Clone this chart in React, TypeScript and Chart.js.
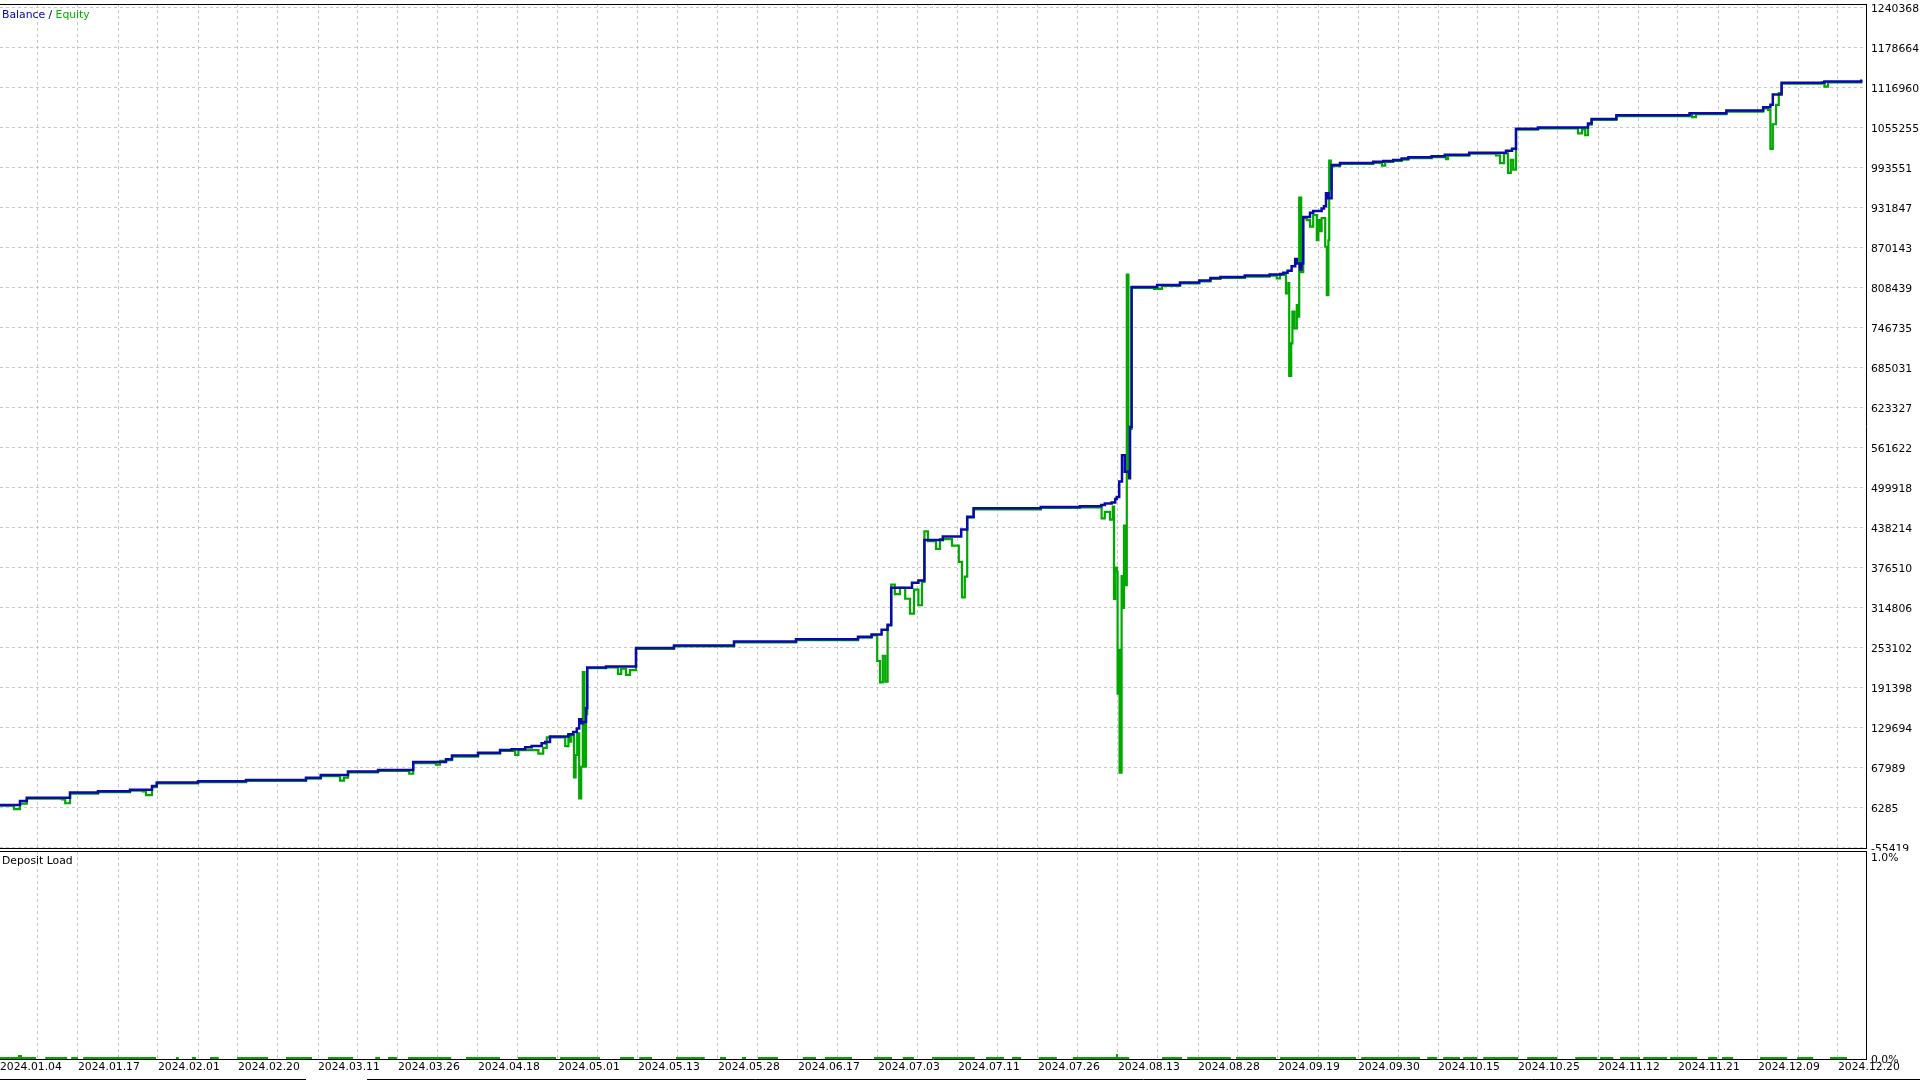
import React, { useEffect, useRef } from 'react';
import { Chart, registerables } from 'chart.js';

Chart.register(...registerables);

// x axis: one unit = one vertical grid step; date labels every second step
const dateLabels = [
  '2024.01.04', '2024.01.17', '2024.02.01', '2024.02.20', '2024.03.11', '2024.03.26',
  '2024.04.18', '2024.05.01', '2024.05.13', '2024.05.28', '2024.06.17', '2024.07.03',
  '2024.07.11', '2024.07.26', '2024.08.13', '2024.08.28', '2024.09.19', '2024.09.30',
  '2024.10.15', '2024.10.25', '2024.11.12', '2024.11.21', '2024.12.09', '2024.12.20',
];

const yTickValues = [
  1240368, 1178664, 1116960, 1055255, 993551, 931847, 870143, 808439, 746735, 685031,
  623327, 561622, 499918, 438214, 376510, 314806, 253102, 191398, 129694, 67989, 6285, -55419,
];

const depositTickValues = [0, 1];

// [position, balance]
const balancePoints: [number, number][] = [
  [0.05, 10000], [0.55, 16000], [0.72, 21000], [1.8, 29000], [2.5, 31000], [3.3, 33500],
  [3.85, 39000], [3.97, 44500], [5.0, 46500], [6.2, 48500], [7.7, 52000], [8.07, 56000],
  [8.75, 61500], [9.5, 64000], [10.38, 76000], [11.2, 80500], [11.35, 86000], [12.0, 90500],
  [12.55, 94700], [12.84, 96000], [13.18, 98800], [13.34, 100800], [13.59, 105000], [13.68, 107000],
  [13.8, 115500], [14.26, 119000], [14.38, 122500], [14.47, 128000], [14.53, 142000], [14.58, 136000],
  [14.63, 138000], [14.7, 159000], [14.73, 222000], [15.2, 223500], [15.95, 252000], [16.9, 256000],
  [18.4, 262000], [19.95, 265500], [21.5, 269500], [21.84, 273000], [22.09, 280000], [22.24, 288000],
  [22.33, 345000], [22.85, 352500], [23.01, 356000], [23.16, 418500], [23.62, 424000], [24.08, 435000],
  [24.23, 454500], [24.39, 467500], [26.07, 469500], [27.05, 470500], [27.58, 472600], [27.67, 474800],
  [27.84, 476300], [27.93, 481800], [27.97, 485000], [28.03, 509000], [28.1, 549500], [28.17, 524000],
  [28.28, 514000], [28.3, 593000], [28.34, 809000], [28.98, 812000], [29.55, 816000], [30.03, 819000],
  [30.31, 822800], [30.56, 824500], [31.17, 826500], [31.79, 828000], [32.05, 829000], [32.13, 831000],
  [32.24, 834000], [32.34, 841000], [32.43, 852000], [32.47, 845000], [32.55, 836000], [32.59, 845000],
  [32.63, 917000], [32.8, 923500], [32.88, 926000], [33.09, 930000], [33.15, 933600], [33.2, 953400],
  [33.26, 945700], [33.34, 997000], [33.55, 1000200], [34.38, 1002000], [34.63, 1003300], [34.88, 1005000],
  [35.09, 1007000], [35.26, 1009000], [35.84, 1010600], [36.17, 1013000], [36.78, 1016000], [37.7, 1019000],
  [37.85, 1022000], [37.95, 1053000], [38.5, 1055000], [39.75, 1061000], [39.84, 1068000], [40.46, 1074000],
  [42.29, 1077000], [43.21, 1081000], [44.13, 1086000], [44.31, 1090000], [44.37, 1106000], [44.59, 1124000],
  [45.66, 1126000], [46.58, 1129000],
];

// [position, equity]
const equityPoints: [number, number][] = [
  [0.05, 9000], [0.4, 3500], [0.55, 12000], [0.72, 19500], [1.6, 18500], [1.68, 12500],
  [1.8, 27500], [2.5, 29500], [3.3, 32000], [3.62, 31000], [3.7, 25000], [3.85, 37500],
  [3.97, 43000], [5.0, 45000], [6.2, 47000], [7.7, 50500], [8.07, 54500], [8.55, 47500],
  [8.65, 52000], [8.75, 60000], [9.5, 62500], [10.28, 58000], [10.38, 74500], [10.95, 72000],
  [11.05, 78000], [11.2, 79000], [11.35, 84500], [12.0, 89000], [12.55, 93200], [12.93, 87000],
  [13.01, 94500], [13.51, 89000], [13.63, 98000], [13.72, 114000], [13.8, 114000], [14.18, 100800],
  [14.26, 117500], [14.28, 107500], [14.33, 117500], [14.4, 52600], [14.44, 87000], [14.48, 120400],
  [14.53, 20200], [14.58, 68800], [14.62, 215000], [14.66, 68800], [14.7, 150000], [14.73, 221000],
  [15.2, 222000], [15.5, 212000], [15.58, 220000], [15.7, 210500], [15.8, 218000], [15.95, 250500],
  [16.9, 254500], [18.4, 260500], [19.95, 264000], [21.5, 268000], [21.84, 271500], [21.98, 232000],
  [22.05, 199000], [22.12, 240000], [22.18, 200000], [22.24, 286500], [22.33, 350000], [22.42, 335000],
  [22.55, 345000], [22.68, 328000], [22.8, 305000], [22.9, 342000], [23.01, 318000], [23.1, 354000],
  [23.16, 432000], [23.25, 417000], [23.45, 405000], [23.55, 420000], [23.85, 410000], [24.02, 385000],
  [24.1, 330000], [24.17, 362000], [24.23, 453000], [24.39, 466000], [26.07, 468000], [27.05, 469000],
  [27.59, 452000], [27.67, 462000], [27.8, 450000], [27.87, 470000], [27.9, 327600], [27.93, 376000],
  [27.97, 370000], [27.99, 181500], [28.02, 249000], [28.04, 59800], [28.09, 363000], [28.1, 314000],
  [28.15, 441000], [28.19, 349000], [28.22, 828000], [28.26, 522000], [28.3, 590000], [28.34, 807500],
  [28.9, 806000], [29.1, 810500], [29.55, 814500], [30.03, 817500], [30.31, 821300], [30.56, 823000],
  [31.17, 825000], [31.79, 826500], [31.97, 822000], [32.05, 827500], [32.2, 799000], [32.26, 815000],
  [32.28, 671600], [32.33, 722000], [32.36, 770800], [32.41, 745000], [32.47, 781000], [32.51, 763000],
  [32.53, 946700], [32.58, 832000], [32.63, 915000], [32.72, 912000], [32.8, 902000], [32.88, 920000],
  [32.97, 881000], [33.01, 912000], [33.05, 895000], [33.09, 915000], [33.18, 871000], [33.22, 796500],
  [33.26, 881000], [33.28, 1003800], [33.32, 960000], [33.34, 995500], [33.55, 998700], [34.38, 1000500],
  [34.6, 996000], [34.68, 1001800], [34.88, 1003500], [35.09, 1005500], [35.26, 1007500], [35.84, 1009100],
  [36.17, 1011500], [36.2, 1006000], [36.25, 1011500], [36.78, 1014500], [37.45, 1012000], [37.55, 1000000],
  [37.65, 1015000], [37.75, 985000], [37.82, 1005000], [37.88, 990000], [37.95, 1051500], [38.5, 1053500],
  [39.5, 1046000], [39.6, 1052000], [39.68, 1043000], [39.75, 1059500], [39.84, 1066500], [40.46, 1072500],
  [42.29, 1075500], [42.35, 1071000], [42.45, 1075500], [43.21, 1079500], [44.13, 1084500], [44.25, 1082000],
  [44.31, 1022000], [44.37, 1060000], [44.45, 1090000], [44.52, 1108000], [44.59, 1122500], [45.6, 1124500],
  [45.66, 1118000], [45.75, 1124500], [46.58, 1127500],
];

// [position, deposit load %]
const depositPoints: [number, number][] = [
  [0.05, 0.01], [0.5, 0.02], [0.6, 0.01], [0.95, 0], [1.18, 0.01], [1.73, 0], [1.83, 0.01], [2.0, 0],
  [2.13, 0.01], [3.95, 0], [4.45, 0.01], [4.52, 0], [4.85, 0.01], [4.95, 0], [5.3, 0.01], [5.52, 0],
  [5.98, 0.01], [6.75, 0], [7.2, 0.01], [7.85, 0], [8.25, 0.01], [8.88, 0], [9.43, 0.01], [9.55, 0],
  [9.75, 0.01], [9.98, 0], [10.25, 0.01], [11.33, 0], [11.7, 0.01], [12.55, 0], [13.0, 0.01], [13.95, 0],
  [14.05, 0.01], [15.05, 0], [15.55, 0.01], [15.9, 0], [16.03, 0.01], [16.35, 0], [16.95, 0.01], [17.67, 0],
  [18.05, 0.01], [18.2, 0], [18.6, 0.01], [18.7, 0], [19.0, 0.01], [19.5, 0], [20.12, 0.01], [20.45, 0],
  [20.67, 0.01], [21.35, 0], [21.9, 0.01], [22.35, 0], [22.62, 0.01], [22.9, 0], [23.35, 0.01], [24.42, 0],
  [24.7, 0.01], [25.15, 0], [25.35, 0.01], [25.58, 0], [26.02, 0.01], [26.47, 0], [26.87, 0.01], [27.95, 0.025],
  [28.0, 0.01], [28.28, 0], [29.1, 0.01], [29.6, 0], [29.73, 0.01], [30.82, 0], [30.95, 0.01], [31.95, 0],
  [32.05, 0.01], [33.95, 0], [34.08, 0.01], [35.55, 0], [35.73, 0.01], [35.98, 0], [36.13, 0.01], [36.55, 0],
  [36.63, 0.01], [36.98, 0], [37.13, 0.01], [38.0, 0], [38.23, 0.01], [38.98, 0], [39.43, 0.01], [39.98, 0],
  [40.05, 0.01], [40.38, 0], [40.55, 0.01], [41.05, 0], [41.13, 0.01], [41.73, 0], [41.8, 0.01], [42.48, 0],
  [42.75, 0.01], [42.98, 0], [43.1, 0.01], [43.38, 0], [44.05, 0.01], [44.73, 0], [44.98, 0.01], [45.38, 0],
  [45.8, 0.01], [46.23, 0],
];

const X_MIN = 0.05;
const X_MAX = 46.7;
const FONT_FAMILY = 'DejaVu Sans';
const FONT_SIZE = 10.8;
const GRID_COLOR = '#c8c8c8';
const BALANCE_COLOR = '#0a0aaa';
const EQUITY_COLOR = '#00a800';

const gridXs: number[] = [];
for (let i = 1; i <= 46; i++) gridXs.push(i);

const zeroPad = (s: any) => {
  s.paddingTop = 0;
  s.paddingBottom = 0;
  s.paddingLeft = 0;
  s.paddingRight = 0;
};

export default function App() {
  const mainRef = useRef<HTMLCanvasElement>(null);
  const depRef = useRef<HTMLCanvasElement>(null);

  useEffect(() => {
    document.body.style.margin = '0';
    document.body.style.background = '#ffffff';
    const toXY = (pts: [number, number][]) => pts.map(([x, y]) => ({ x, y }));
    const font = { family: FONT_FAMILY, size: FONT_SIZE };

    const mainFrame = {
      id: 'mainFrame',
      afterDraw(chart: any) {
        const { ctx, chartArea: a } = chart;
        ctx.save();
        ctx.strokeStyle = '#000';
        ctx.lineWidth = 1;
        ctx.beginPath();
        const ty = Math.round(a.top) + 0.5;
        ctx.moveTo(0, ty);
        ctx.lineTo(Math.round(a.right) + 1, ty);
        ctx.stroke();
        ctx.font = `${FONT_SIZE}px "${FONT_FAMILY}"`;
        ctx.textBaseline = 'middle';
        ctx.textAlign = 'left';
        let x = 2;
        const y = 15;
        ctx.fillStyle = '#0000c0';
        ctx.fillText('Balance', x, y);
        x += ctx.measureText('Balance').width;
        ctx.fillStyle = '#000060';
        ctx.fillText(' / ', x, y);
        x += ctx.measureText(' / ').width;
        ctx.fillStyle = '#00b000';
        ctx.fillText('Equity', x, y);
        ctx.restore();
      },
    };

    const depFrame = {
      id: 'depFrame',
      afterDraw(chart: any) {
        const { ctx, chartArea: a } = chart;
        ctx.save();
        ctx.strokeStyle = '#000';
        ctx.lineWidth = 1;
        ctx.beginPath();
        ctx.moveTo(0, Math.round(a.top) + 0.5);
        ctx.lineTo(Math.round(a.right) + 1, Math.round(a.top) + 0.5);
        const by = chart.height - 0.5;
        ctx.moveTo(0, by);
        ctx.lineTo(306, by);
        ctx.moveTo(367, by);
        ctx.lineTo(chart.width, by);
        ctx.stroke();
        ctx.font = `${FONT_SIZE}px "${FONT_FAMILY}"`;
        ctx.textBaseline = 'middle';
        ctx.textAlign = 'left';
        ctx.fillStyle = '#000';
        ctx.fillText('Deposit Load', 2, 10);
        ctx.restore();
      },
    };

    const main = new Chart(mainRef.current as HTMLCanvasElement, {
      type: 'line',
      data: {
        datasets: [
          {
            label: 'Balance',
            data: toXY(balancePoints),
            borderColor: BALANCE_COLOR,
            borderWidth: 2.5,
            pointRadius: 0,
            stepped: true,
            fill: false,
          },
          {
            label: 'Equity',
            data: toXY(equityPoints),
            borderColor: EQUITY_COLOR,
            borderWidth: 2.2,
            pointRadius: 0,
            stepped: true,
            fill: false,
          },
        ],
      },
      options: {
        animation: false,
        responsive: false,
        maintainAspectRatio: false,
        events: [],
        layout: { padding: { top: 4, left: 0, right: 0, bottom: 0 } },
        plugins: { legend: { display: false }, tooltip: { enabled: false } },
        scales: {
          x: {
            type: 'linear',
            min: X_MIN,
            max: X_MAX,
            afterBuildTicks: (s: any) => {
              s.ticks = gridXs.map((v) => ({ value: v }));
            },
            afterFit: (s: any) => {
              s.height = 3;
              zeroPad(s);
            },
            ticks: { display: false },
            grid: { color: GRID_COLOR, lineWidth: 1, drawTicks: false, tickLength: 0 },
            border: { display: true, color: '#000', width: 1, dash: [3, 3] },
          },
          y: {
            type: 'linear',
            position: 'right',
            min: -56500,
            max: 1245460,
            afterBuildTicks: (s: any) => {
              s.ticks = yTickValues.map((v) => ({ value: v }));
            },
            afterFit: (s: any) => {
              s.width = 54;
              zeroPad(s);
            },
            ticks: {
              font,
              color: '#000',
              padding: 5,
              labelOffset: 1.5,
              autoSkip: false,
              callback: (v: any) => String(v),
            },
            grid: { color: GRID_COLOR, lineWidth: 1, drawTicks: false, tickLength: 0 },
            border: { display: true, color: '#000', width: 1, dash: [3, 3] },
          },
        },
      },
      plugins: [mainFrame],
    } as any);

    const dep = new Chart(depRef.current as HTMLCanvasElement, {
      type: 'line',
      data: {
        datasets: [
          {
            label: 'Deposit Load',
            data: toXY(depositPoints),
            borderColor: EQUITY_COLOR,
            backgroundColor: EQUITY_COLOR,
            borderWidth: 0,
            pointRadius: 0,
            stepped: true,
            fill: 'origin',
          },
        ],
      },
      options: {
        animation: false,
        responsive: false,
        maintainAspectRatio: false,
        events: [],
        layout: { padding: 0 },
        plugins: { legend: { display: false }, tooltip: { enabled: false } },
        scales: {
          x: {
            type: 'linear',
            min: X_MIN,
            max: X_MAX,
            afterBuildTicks: (s: any) => {
              s.ticks = [X_MIN, ...gridXs].map((v) => ({ value: v }));
            },
            afterFit: (s: any) => {
              s.height = 21;
              zeroPad(s);
            },
            ticks: {
              font,
              color: '#000',
              align: 'start',
              maxRotation: 0,
              minRotation: 0,
              autoSkip: false,
              padding: 2,
              callback: (v: any) => {
                if (v === X_MIN) return dateLabels[0];
                if (Number.isInteger(v) && v % 2 === 0) return dateLabels[v / 2] ?? '';
                return '';
              },
            },
            grid: {
              color: (c: any) => (c.tick && c.tick.value === X_MIN ? 'rgba(0,0,0,0)' : GRID_COLOR),
              lineWidth: 1,
              drawTicks: false,
              tickLength: 0,
            },
            border: { display: true, color: '#000', width: 1, dash: [3, 3] },
          },
          y: {
            type: 'linear',
            position: 'right',
            min: 0,
            max: 1.0297,
            afterBuildTicks: (s: any) => {
              s.ticks = depositTickValues.map((v) => ({ value: v }));
            },
            afterFit: (s: any) => {
              s.width = 54;
              zeroPad(s);
            },
            ticks: {
              font,
              color: '#000',
              padding: 5,
              labelOffset: 1,
              autoSkip: false,
              callback: (v: any) => `${Number(v).toFixed(1)}%`,
            },
            grid: { display: false, drawTicks: false, tickLength: 0 },
            border: { display: true, color: '#000', width: 1 },
          },
        },
      },
      plugins: [depFrame],
    } as any);

    return () => {
      main.destroy();
      dep.destroy();
    };
  }, []);

  return (
    <div style={{ position: 'absolute', left: 0, top: 0, width: 1920, height: 1080, background: '#fff', overflow: 'hidden' }}>
      <canvas ref={mainRef} width={1920} height={851} style={{ position: 'absolute', left: 0, top: 0, display: 'block' }} />
      <canvas ref={depRef} width={1920} height={229} style={{ position: 'absolute', left: 0, top: 851, display: 'block' }} />
    </div>
  );
}
